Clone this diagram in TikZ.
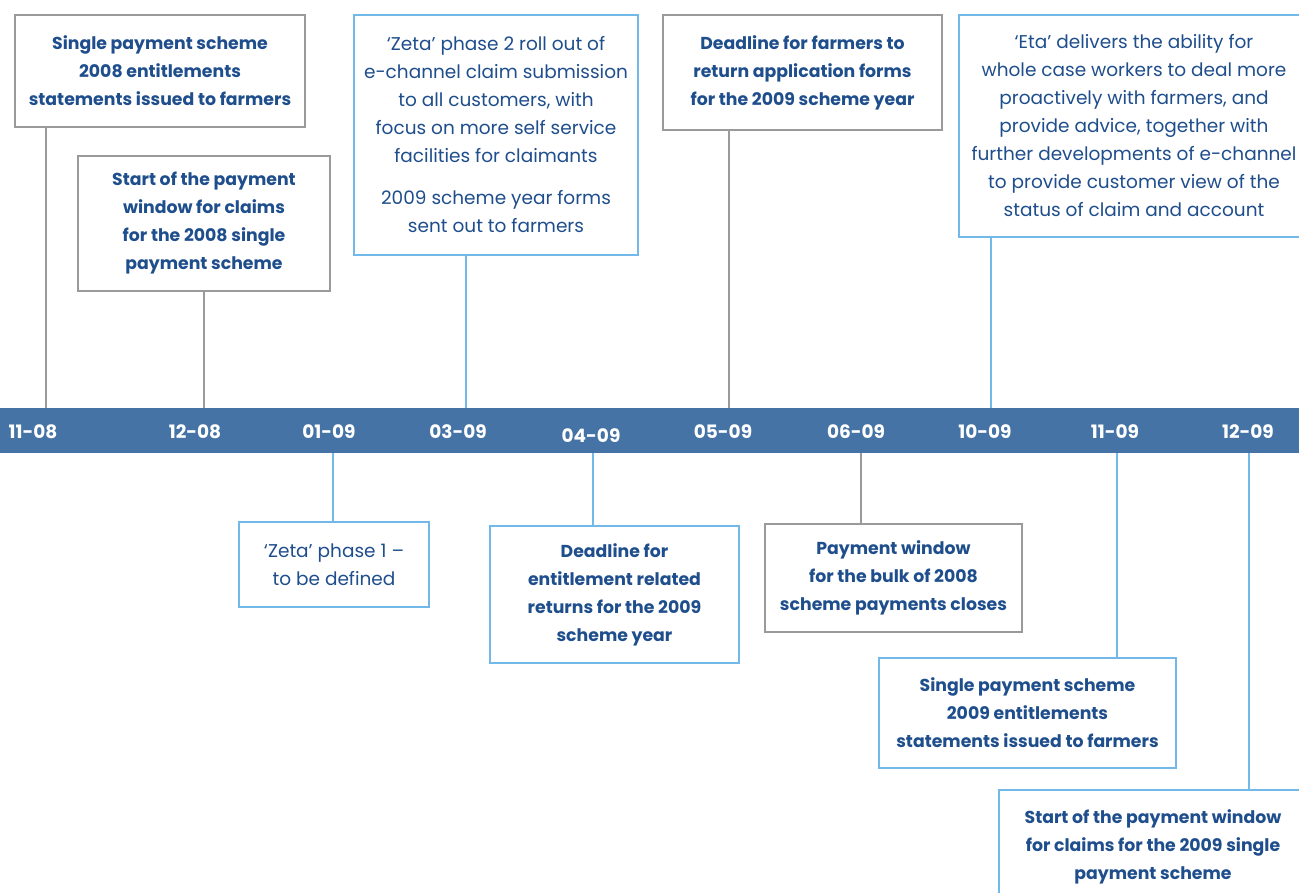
\documentclass[tikz,border=0pt]{standalone}
\usepackage{fontspec}
\setmainfont{Poppins}
\definecolor{barblue}{HTML}{4573A5}
\definecolor{textblue}{HTML}{1F4E8C}
\definecolor{lightblue}{HTML}{72B9EA}
\definecolor{midgray}{HTML}{9A9A9A}
\tikzset{
  evbox/.style={draw, line width=2.2pt, fill=white, align=center, inner sep=0pt,
    text=textblue, font=\fontsize{18.5}{28}\selectfont},
  graybox/.style={evbox, draw=midgray, font=\fontsize{17.3}{28}\selectfont\bfseries},
  bluebold/.style={evbox, draw=lightblue, font=\fontsize{17.3}{28}\selectfont\bfseries},
  bluebox/.style={evbox, draw=lightblue},
  gline/.style={draw=midgray, line width=2.4pt},
  bline/.style={draw=lightblue, line width=2.4pt},
  datelabel/.style={text=white, font=\fontsize{18.5}{20}\selectfont\bfseries, inner sep=0pt}
}
\begin{document}
\begin{tikzpicture}[x=1pt,y=-1pt]
\useasboundingbox (0,0) rectangle (1299,892);

% timeline bar
\node[fill=barblue, minimum width=1299pt, minimum height=45pt, inner sep=0pt, anchor=north west] (bar) at (0,408) {};

% month labels on the bar
\node[datelabel] (m1)  at (33,432)   {11-08};
\node[datelabel] (m2)  at (195,432)  {12-08};
\node[datelabel] (m3)  at (329,432)  {01-09};
\node[datelabel] (m4)  at (458,432)  {03-09};
\node[datelabel] (m5)  at (591,436)  {04-09};
\node[datelabel] (m6)  at (723,432)  {05-09};
\node[datelabel] (m7)  at (856,432)  {06-09};
\node[datelabel] (m8)  at (985,432)  {10-09};
\node[datelabel] (m9)  at (1115,432) {11-09};
\node[datelabel] (m10) at (1248,432) {12-09};

% tick positions where connectors meet the bar
\coordinate (t1) at (46,0);
\coordinate (t2) at (204,0);
\coordinate (t3) at (466,0);
\coordinate (t4) at (729,0);
\coordinate (t5) at (991,0);
\coordinate (t6) at (333,0);
\coordinate (t7) at (593,0);
\coordinate (t8) at (861,0);
\coordinate (t9) at (1117,0);
\coordinate (t10) at (1249,0);

% events above the bar
\node[graybox, minimum width=290pt, minimum height=112pt] (b1) at (160,71)
  {Single payment scheme\\2008 entitlements\\statements issued to farmers};
\node[graybox, minimum width=252pt, minimum height=135pt] (b2) at (204,223.5)
  {Start of the payment\\window for claims\\for the 2008 single\\payment scheme};
\node[bluebox, minimum width=284pt, minimum height=240pt] (b3) at (496,135)
  {‘Zeta’ phase 2 roll out of\\e-channel claim submission\\to all customers, with\\focus on more self service\\facilities for claimants\\[14pt]2009 scheme year forms\\sent out to farmers};
\node[graybox, minimum width=279pt, minimum height=115pt] (b4) at (802.5,72.5)
  {Deadline for farmers to\\return application forms\\for the 2009 scheme year};
\node[bluebox, minimum width=350pt, minimum height=222pt] (b5) at (1134,126)
  {‘Eta’ delivers the ability for\\whole case workers to deal more\\proactively with farmers, and\\provide advice, together with\\further developments of e-channel\\to provide customer view of the\\status of claim and account};

% events below the bar
\node[bluebox, minimum width=190pt, minimum height=85pt] (b6) at (334,564.5)
  {‘Zeta’ phase 1 –\\to be defined};
\node[bluebold, minimum width=249pt, minimum height=137pt] (b7) at (614.5,594.5)
  {Deadline for\\entitlement related\\returns for the 2009\\scheme year};
\node[graybox, minimum width=257pt, minimum height=108pt] (b8) at (893.5,578)
  {Payment window\\for the bulk of 2008\\scheme payments closes};
\node[bluebold, minimum width=297pt, minimum height=110pt] (b9) at (1027.5,713)
  {Single payment scheme\\2009 entitlements\\statements issued to farmers};
\node[bluebold, minimum width=308pt, minimum height=114pt] (b10) at (1153,847)
  {Start of the payment window\\for claims for the 2009 single\\payment scheme};

% connectors
\draw[gline] (t1 |- b1.south) -- (t1 |- bar.north);
\draw[gline] (t2 |- b2.south) -- (t2 |- bar.north);
\draw[bline] (t3 |- b3.south) -- (t3 |- bar.north);
\draw[gline] (t4 |- b4.south) -- (t4 |- bar.north);
\draw[bline] (t5 |- b5.south) -- (t5 |- bar.north);
\draw[bline] (t6 |- bar.south) -- (t6 |- b6.north);
\draw[bline] (t7 |- bar.south) -- (t7 |- b7.north);
\draw[gline] (t8 |- bar.south) -- (t8 |- b8.north);
\draw[bline] (t9 |- bar.south) -- (t9 |- b9.north);
\draw[bline] (t10 |- bar.south) -- (t10 |- b10.north);
\end{tikzpicture}
\end{document}
